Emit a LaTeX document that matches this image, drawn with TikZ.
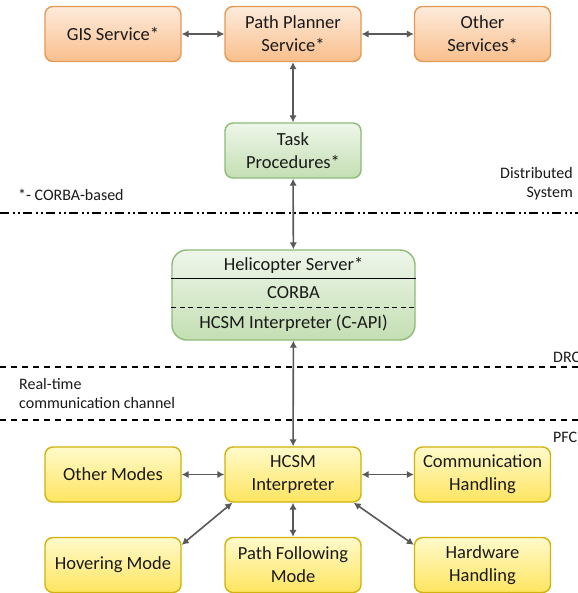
\documentclass[tikz,border=0pt]{standalone}
\usepackage{fontspec}
\setmainfont{Carlito}
\usetikzlibrary{arrows.meta,positioning,calc}
\definecolor{orbord}{HTML}{E49A55}
\definecolor{ortop}{HTML}{FDEBDC}
\definecolor{orbot}{HTML}{F9BF8C}
\definecolor{grbord}{HTML}{8DBB78}
\definecolor{grtop}{HTML}{EEF6EA}
\definecolor{grbot}{HTML}{C4DFB3}
\definecolor{yebord}{HTML}{D2B20E}
\definecolor{yetop}{HTML}{FFFACB}
\definecolor{yebot}{HTML}{FFE560}
\definecolor{arrgray}{HTML}{595959}
\definecolor{txt}{HTML}{1A1A1A}
\tikzset{
  box/.style={draw, rounded corners=8pt, line width=1.4pt, minimum width=136pt, minimum height=55pt,
    align=center, font=\fontsize{18.5}{23}\selectfont, text=txt, inner sep=1pt},
  orbox/.style={box, draw=orbord, top color=ortop, bottom color=orbot},
  grbox/.style={box, draw=grbord, top color=grtop, bottom color=grbot},
  yebox/.style={box, draw=yebord, top color=yetop, bottom color=yebot},
  conn/.style={draw=arrgray, line width=1.6pt, {Latex[length=7pt,width=7.5pt]}-{Latex[length=7pt,width=7.5pt]}},
  small/.style={font=\fontsize{16}{19}\selectfont, text=txt, inner sep=0pt},
  inner/.style={font=\fontsize{18.5}{22}\selectfont, text=txt, inner sep=0pt},
  sepline/.style={line width=1.2pt, black}
}
\begin{document}
\begin{tikzpicture}[x=1pt,y=-1pt]
\useasboundingbox (0,0) rectangle (577,593);
\fill[white] (0,0) rectangle (577,593);

% separator lines
\coordinate (l1a) at (0,213); \coordinate (l1b) at (580,213);
\coordinate (l2a) at (0,367); \coordinate (l2b) at (580,367);
\coordinate (l3a) at (0,420); \coordinate (l3b) at (580,420);
\draw[sepline, dash pattern=on 9pt off 4pt on 1.5pt off 3.5pt on 1.5pt off 3.5pt] (l1a) -- (l1b);
\draw[sepline, dash pattern=on 6pt off 5pt] (l2a) -- (l2b);
\draw[sepline, dash pattern=on 6pt off 5pt] (l3a) -- (l3b);

% top services
\node[orbox] (gis) at (113,34) {GIS Service*};
\node[orbox] (pp) at (293,34) {Path Planner\\Service*};
\node[orbox] (os) at (482.5,34) {Other\\Services*};

\node[grbox] (task) at (293,150.5) {Task\\Procedures*};

% helicopter server
\node[grbox, minimum width=243pt, minimum height=90pt, rounded corners=15pt] (heli) at (293.5,295) {};
\draw[line width=1.3pt, black] ([yshift=-29pt]heli.north west) -- ([yshift=-29pt]heli.north east);
\draw[line width=1.1pt, black, dash pattern=on 5pt off 3.5pt] ([yshift=-58pt]heli.north west) -- ([yshift=-58pt]heli.north east);
\node[inner] (hs) at (293.5,265) {Helicopter Server*};
\node[inner] (corba) at (293.5,293) {CORBA};
\node[inner] (hapi) at (293.5,323) {HCSM Interpreter (C-API)};

% bottom boxes
\node[yebox] (hcsm) at (293,474.5) {HCSM\\Interpreter};
\node[yebox] (om) at (113,474.5) {Other Modes};
\node[yebox] (ch) at (482.5,474.5) {Communication\\Handling};
\node[yebox] (hm) at (113,565) {Hovering Mode};
\node[yebox] (pf) at (293,565) {Path Following\\Mode};
\node[yebox] (hh) at (482.5,565) {Hardware\\Handling};

% labels
\node[small, anchor=west] (cb) at (18,195) {*- CORBA-based};
\node[small, anchor=east, align=right] (ds) at (573,184) {Distributed\\System};
\node[small, anchor=west] (drc) at (553,357) {DRC};
\node[small, anchor=west] (pfc) at (553,437) {PFC};
\node[small, anchor=west, align=left] (rt) at (19,394) {Real-time\\communication channel};

% connectors
\draw[conn] (gis) -- (pp);
\draw[conn] (pp) -- (os);
\draw[conn] (pp) -- (task);
\draw[conn] (task) -- (heli);
\draw[conn] (heli) -- (hcsm);
\draw[conn] (om) -- (hcsm);
\draw[conn] (hcsm) -- (ch);
\draw[conn] (hcsm) -- (pf);
\draw[conn] ([xshift=8pt]hcsm.south west) -- ([yshift=-8pt]hm.north east);
\draw[conn] ([xshift=-8pt]hcsm.south east) -- ([yshift=-8pt]hh.north west);
\end{tikzpicture}
\end{document}
